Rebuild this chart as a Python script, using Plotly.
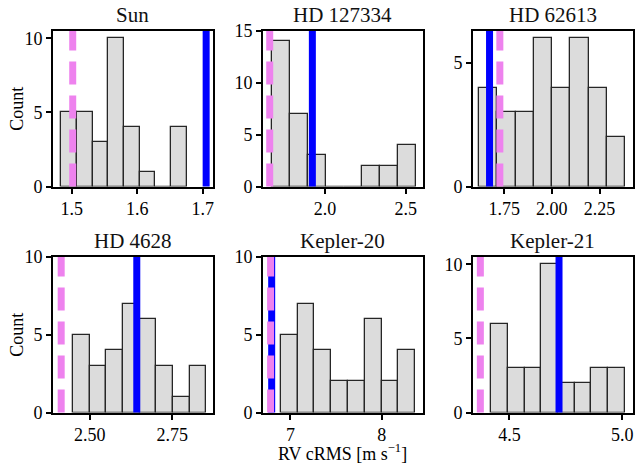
import plotly.graph_objects as go

# ---- data ----
names = ["Sun", "HD 127334", "HD 62613", "HD 4628", "Kepler-20", "Kepler-21"]
bin_starts = [1.484, 1.673, 1.618, 2.4493, 6.8946, 4.4186]
bin_widths = [0.02394, 0.111, 0.0957, 0.0505, 0.1839, 0.0742]
counts_sun = [5, 5, 3, 10, 4, 1, 0, 4]
counts_hd127334 = [14, 7, 3, 0, 0, 2, 2, 4]
counts_hd62613 = [4, 3, 3, 6, 4, 6, 4, 2]
counts_hd4628 = [5, 3, 4, 7, 6, 3, 1, 3]
counts_k20 = [5, 7, 4, 2, 2, 6, 2, 4]
counts_k21 = [6, 3, 3, 10, 2, 2, 3, 3]
all_counts = [counts_sun, counts_hd127334, counts_hd62613, counts_hd4628, counts_k20, counts_k21]
pink_vals = [1.5015, 1.657, 1.727, 2.4138, 6.783, 4.371]
blue_vals = [1.7052, 1.921, 1.673, 2.6427, 6.795, 4.720]
x_ranges = [[1.4714, 1.7149], [1.6154, 2.603], [1.5862, 2.423],
            [2.389, 2.872], [6.70, 8.445], [4.3384, 5.046]]
y_max = [10.5, 15, 6.3, 10, 10, 10.5]
x_dticks = [0.1, 0.5, 0.25, 0.25, 1, 0.5]
x_formats = [".1f", ".1f", ".2f", ".2f", "d", ".1f"]

W, H = 635, 470
col_left = [53, 263, 473]
col_w = 159.5
row_top = [31, 257]
row_h = 155.5


def px(X):
    return X / W


def py(Y):
    return 1 - Y / H


FONT = "Liberation Serif"
fig = go.Figure()
layout = dict(
    template="none",
    width=W, height=H, margin=dict(l=0, r=0, t=0, b=0, autoexpand=False),
    plot_bgcolor="white", paper_bgcolor="white", showlegend=False,
    bargap=0, font=dict(family=FONT, size=18, color="black"),
)
annotations = []
shapes = []
for i in range(6):
    r, c = divmod(i, 3)
    ax = "" if i == 0 else str(i + 1)
    x0 = px(col_left[c])
    x1 = px(col_left[c] + col_w)
    y1 = py(row_top[r])
    y0 = py(row_top[r] + row_h)
    cnts = all_counts[i]
    centers = [bin_starts[i] + bin_widths[i] * (k + 0.5) for k in range(len(cnts))]
    fig.add_trace(go.Bar(
        x=centers, y=cnts, width=[bin_widths[i]] * len(cnts),
        marker=dict(color="#dcdcdc", line=dict(color="#262626", width=1.3)),
        xaxis="x" + ax, yaxis="y" + ax, hoverinfo="skip",
    ))
    axstyle = dict(showline=True, linecolor="black", linewidth=2, mirror=True,
                   ticks="outside", ticklen=5, tickwidth=1.5, tickcolor="black",
                   showgrid=False, zeroline=False, automargin=False,
                   tickfont=dict(family=FONT, size=18, color="black"))
    layout["xaxis" + ax] = dict(domain=[x0, x1], range=x_ranges[i], anchor="y" + ax,
                                dtick=x_dticks[i], tick0=0, tickformat=x_formats[i], **axstyle)
    layout["yaxis" + ax] = dict(domain=[y0, y1], range=[0, y_max[i]], anchor="x" + ax,
                                dtick=5, tick0=0, **axstyle)
    # reference lines: blue first, pink dashed on top
    shapes.append(dict(type="line", xref="x" + ax, yref="y" + ax + " domain",
                       x0=blue_vals[i], x1=blue_vals[i], y0=0, y1=1,
                       line=dict(color="blue", width=7), layer="above"))
    shapes.append(dict(type="line", xref="x" + ax, yref="y" + ax + " domain",
                       x0=pink_vals[i], x1=pink_vals[i], y0=0, y1=1,
                       line=dict(color="violet", width=7, dash="23px,11px"), layer="above"))
    annotations.append(dict(text=names[i], xref="paper", yref="paper",
                            x=(x0 + x1) / 2, y=y1, yanchor="bottom", xanchor="center",
                            yshift=2, showarrow=False,
                            font=dict(family=FONT, size=21, color="#111111")))

# axis labels
for r in range(2):
    annotations.append(dict(text="Count", xref="paper", yref="paper",
                            x=px(17), y=py(row_top[r] + row_h / 2),
                            textangle=-90, showarrow=False, xanchor="center", yanchor="middle",
                            font=dict(family=FONT, size=18, color="black")))
annotations.append(dict(text="RV cRMS [m s<sup>−1</sup>]", xref="paper", yref="paper",
                        x=px(col_left[1] + col_w / 2), y=py(452),
                        showarrow=False, xanchor="center", yanchor="middle",
                        font=dict(family=FONT, size=18, color="black")))
layout["annotations"] = annotations
layout["shapes"] = shapes
fig.update_layout(**layout)
fig.write_html("out.html", config={"displayModeBar": False},
               post_script="document.body.style.margin='0';")
